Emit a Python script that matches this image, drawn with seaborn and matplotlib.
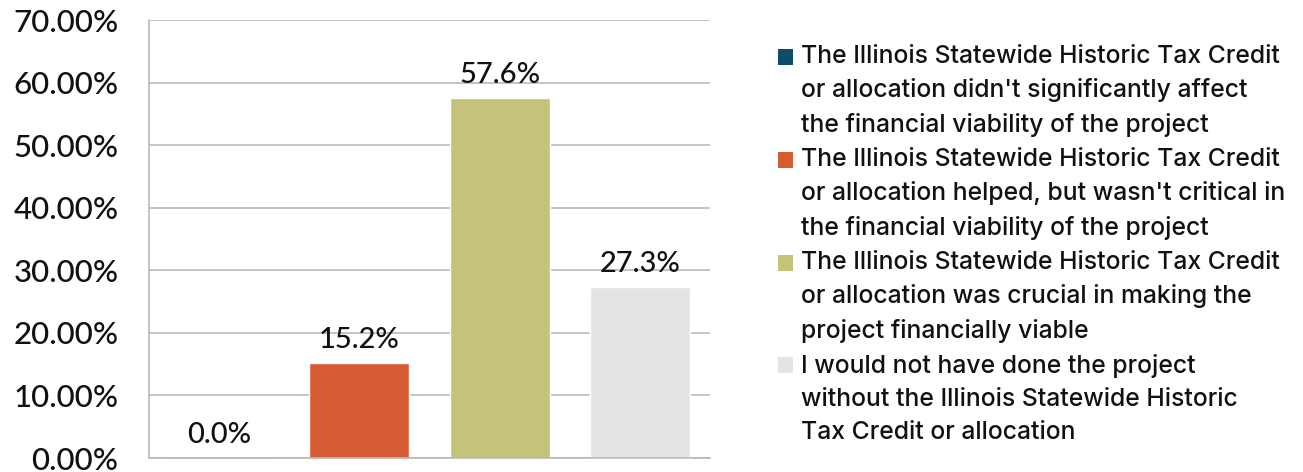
import matplotlib
matplotlib.use("Agg")
import matplotlib.pyplot as plt
import seaborn as sns
import pandas as pd
from matplotlib.patches import Patch, Rectangle
from matplotlib.legend_handler import HandlerPatch
from matplotlib.ticker import StrMethodFormatter

# data
categories = [
    "The Illinois Statewide Historic Tax Credit\nor allocation didn't significantly affect\nthe financial viability of the project",
    "The Illinois Statewide Historic Tax Credit\nor allocation helped, but wasn't critical in\nthe financial viability of the project",
    "The Illinois Statewide Historic Tax Credit\nor allocation was crucial in making the\nproject financially viable",
    "I would not have done the project\nwithout the Illinois Statewide Historic\nTax Credit or allocation",
]
values = [0.0, 15.2, 57.6, 27.3]
colors = ["#0f4c68", "#d65b35", "#c5c27a", "#e4e4e4"]
yticks = [0, 10, 20, 30, 40, 50, 60, 70]

df = pd.DataFrame({"cat": categories, "pct": values})

sns.set_style("white")
plt.rcParams["font.family"] = ["Lato", "DejaVu Sans"]

fig = plt.figure(figsize=(13.03, 4.72), dpi=100)
ax = fig.add_axes([149 / 1303, 14 / 472, 561 / 1303, 438 / 472])

sns.barplot(data=df, x="cat", y="pct", hue="cat", palette=colors, dodge=False,
            width=0.714, saturation=1, legend=False, ax=ax)

ax.set_ylim(0, 70)
ax.set_xlim(-0.5, 3.5)
ax.set_yticks(yticks)
ax.yaxis.set_major_formatter(StrMethodFormatter("{x:.2f}%"))
ax.set_xticks([])
ax.set_xlabel("")
ax.set_ylabel("")
ax.grid(axis="y", color="#b4b4b4", linewidth=1.1)
ax.set_axisbelow(True)
for s in ["top", "right"]:
    ax.spines[s].set_visible(False)
for s in ["left", "bottom"]:
    ax.spines[s].set_color("#b4b4b4")
    ax.spines[s].set_linewidth(1.1)
ax.tick_params(axis="y", length=8, width=1.1, color="#b4b4b4", pad=14,
               labelsize=22.5, labelcolor="#111111")
for lab in ax.get_yticklabels():
    lab.set_fontweight("medium")

for cont, v in zip(ax.containers, values):
    ax.bar_label(cont, labels=[f"{v:.1f}%"], padding=7, fontsize=21,
                 fontweight="medium", color="#111111")


FS = 17.8
LS = 1.55


def top_square(legend, orig_handle, xdescent, ydescent, width, height, fontsize):
    # put the swatch next to the first line of the label
    nlines = 3
    step = fontsize * LS * 0.89
    size = 11
    y = -ydescent + height / 2 - size / 2 + step * (nlines - 1) / 2
    return Rectangle((-xdescent + width - size, y), size, size)


handles = [Patch(facecolor=c, edgecolor="none") for c in colors]
leg = fig.legend(handles, categories, loc="upper left",
                 bbox_to_anchor=(766 / 1303, 1 - 35 / 472),
                 frameon=False, handlelength=0.7, handleheight=0.7,
                 handletextpad=0.3, labelspacing=0.45, borderaxespad=0,
                 handler_map={Patch: HandlerPatch(patch_func=top_square)},
                 prop={"family": ["Inter", "DejaVu Sans"], "size": FS, "weight": "medium"})
for t in leg.get_texts():
    t.set_linespacing(LS)
    t.set_color("#111111")

fig.savefig("out.png", dpi=100)
